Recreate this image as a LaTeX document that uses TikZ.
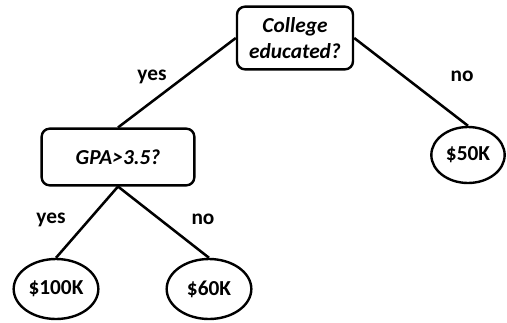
\documentclass[tikz,border=0pt]{standalone}
\usepackage{fontspec}
\setmainfont{Carlito}
\usetikzlibrary{shapes.geometric}
\pgfdeclarelayer{edgelayer}
\pgfdeclarelayer{nodelayer}
\pgfsetlayers{edgelayer,nodelayer,main}
\tikzstyle{none}=[inner sep=0pt, font=\fontsize{16}{19}\selectfont\bfseries]
\tikzstyle{edge}=[draw=black, line width=1.9pt]
\tikzstyle{question}=[rectangle, rounded corners=6pt, fill=white, draw=black, line width=1.8pt, align=center, font=\fontsize{16}{19}\selectfont\bfseries\itshape, inner sep=0pt]
\tikzstyle{leaf}=[ellipse, fill=white, draw=black, line width=1.8pt, font=\fontsize{16}{19}\selectfont\bfseries, inner sep=0pt]

\begin{document}
\begin{tikzpicture}[x=0.75pt, y=-0.75pt]
				\useasboundingbox (0, 0) rectangle (507, 322);
				\begin{pgfonlayer}{nodelayer}
					\node [style=question, minimum width=87pt, minimum height=47pt] (0) at (295, 38) {College\\educated?};
					\node [style=question, minimum width=114.5pt, minimum height=42.5pt] (1) at (118, 157) {GPA>3.5?};
					\node [style=leaf, minimum width=55pt, minimum height=42pt] (2) at (468, 155) {\$50K};
					\node [style=leaf, minimum width=63.5pt, minimum height=45pt] (3) at (56, 289) {\$100K};
					\node [style=leaf, minimum width=63.5pt, minimum height=45pt] (4) at (209, 289) {\$60K};
					\node [style=none] (5) at (152, 77) {yes};
					\node [style=none] (6) at (462, 76) {no};
					\node [style=none] (7) at (51, 220) {yes};
					\node [style=none] (8) at (203, 219) {no};
				\end{pgfonlayer}
				\begin{pgfonlayer}{edgelayer}
					\draw [style=edge] (0.west) to (1.north);
					\draw [style=edge] (0.east) to (2.north);
					\draw [style=edge] (1.south) to (3.north);
					\draw [style=edge] (1.south) to (4.north);
				\end{pgfonlayer}
			\end{tikzpicture}
\end{document}
